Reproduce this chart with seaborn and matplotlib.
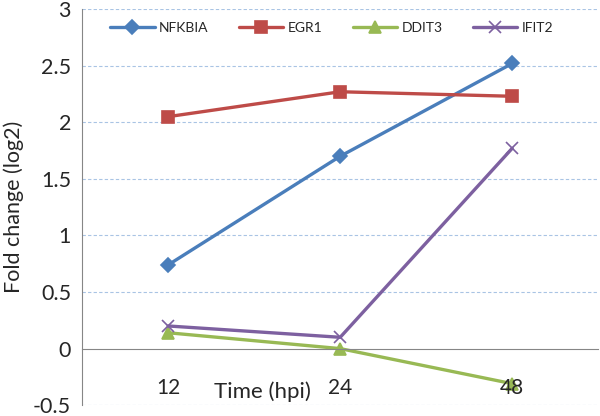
import matplotlib.pyplot as plt
import pandas as pd
import numpy as np
import seaborn as sns

times = ['12', '24', '48']
genes = ['NFKBIA', 'EGR1', 'DDIT3', 'IFIT2']
nfkbia = [0.74, 1.70, 2.52]
egr1 = [2.05, 2.27, 2.23]
ddit3 = [0.14, 0.0, -0.31]
ifit2 = [0.20, 0.10, 1.77]

colors = ['#4A7EBB', '#BE4B48', '#98B954', '#7D60A0']
markers = ['D', 's', '^', 'x']
msizes = [7, 9, 8, 9]

series = [nfkbia, egr1, ddit3, ifit2]

sns.set_style('white')
plt.rcParams['font.family'] = ['Lato', 'DejaVu Sans']

fig = plt.figure(figsize=(6, 4.16), dpi=100)
ax = fig.add_axes([0.137, 0.026, 0.86, 0.952])

for g, vals, c, m, ms in zip(genes, series, colors, markers, msizes):
    d = pd.DataFrame({'time': times, 'fc': vals})
    sns.lineplot(data=d, x='time', y='fc', color=c, marker=m, markersize=ms,
                 markeredgecolor=c, markeredgewidth=1.2, linewidth=2.4,
                 sort=False, label=g, ax=ax)

ax.set_ylim(-0.5, 3)
ax.set_xlim(-0.5, 2.5)
ax.set_yticks(np.arange(-0.5, 3.01, 0.5))
ax.set_yticklabels(['-0.5', '0', '0.5', '1', '1.5', '2', '2.5', '3'])
for yv in [-0.5, 0.5, 1, 1.5, 2, 2.5, 3]:
    ax.axhline(yv, color='#A9C4E4', lw=0.8, ls=(0, (3, 2)), zorder=0)

for s in ['top', 'right']:
    ax.spines[s].set_visible(False)
ax.spines['bottom'].set_position(('data', 0))
ax.spines['bottom'].set_color('#868686')
ax.spines['left'].set_color('#868686')
ax.set_axisbelow(False)  # tick labels sit over the markers, as in excel
ax.tick_params(axis='x', length=0, pad=21, labelsize=15)
ax.tick_params(axis='y', length=0, pad=8, labelsize=15.5)

ax.set_xlabel('')
ax.set_ylabel('Fold change (log2)', fontsize=15.5)
ax.yaxis.set_label_coords(-0.113, 0.5)
ax.text(0.55, -0.38, 'Time (hpi)', fontsize=16, ha='center', va='center')

ax.legend(loc='upper left', bbox_to_anchor=(0.03, 1.0), ncol=4, frameon=False,
          fontsize=10, handlelength=3.2, columnspacing=2.2, handletextpad=0.3)

fig.savefig('out.png', dpi=100)
